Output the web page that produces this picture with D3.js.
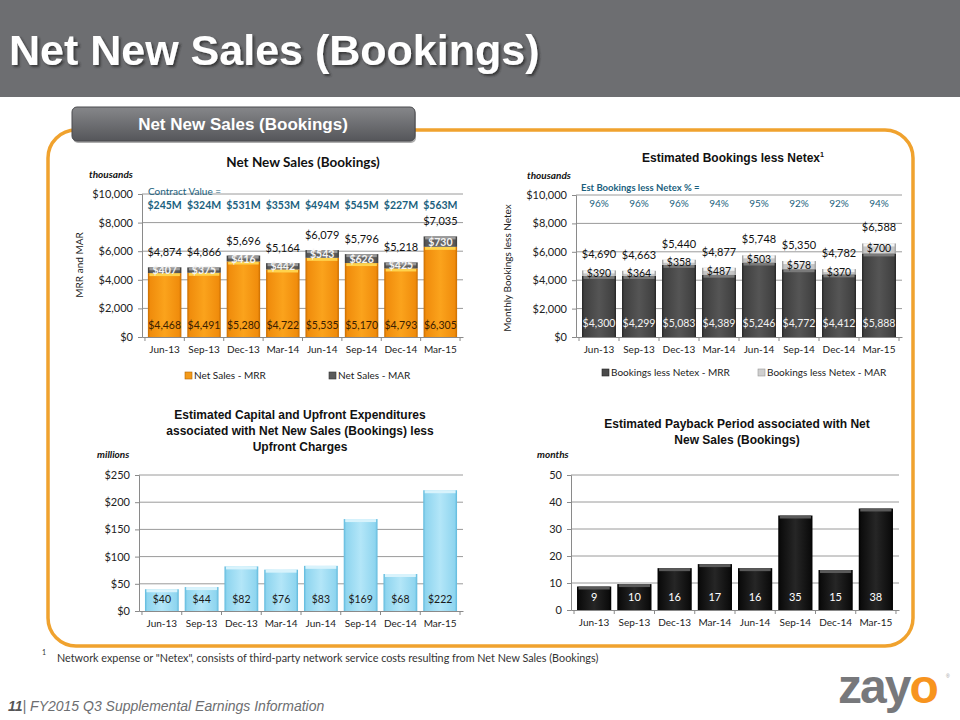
<!DOCTYPE html>
<html>
<head>
<meta charset="utf-8">
<script src="https://cdn.jsdelivr.net/npm/d3@7"></script>
<style>
  html, body { margin: 0; padding: 0; background: #fff; }
  svg { display: block; }
</style>
</head>
<body>
<svg id="chart" width="960" height="720"></svg>
<script>
// ---------------- DATA ----------------
const categories = ["Jun-13","Sep-13","Dec-13","Mar-14","Jun-14","Sep-14","Dec-14","Mar-15"];

const netSalesMRR   = [4468, 4491, 5280, 4722, 5535, 5170, 4793, 6305];
const netSalesMAR   = [407, 375, 416, 442, 543, 626, 425, 730];
const netSalesTotal = [4874, 4866, 5696, 5164, 6079, 5796, 5218, 7035];
const contractValue = [245, 324, 531, 353, 494, 545, 227, 563];

const bookingsMRR   = [4300, 4299, 5083, 4389, 5246, 4772, 4412, 5888];
const bookingsMAR   = [390, 364, 358, 487, 503, 578, 370, 700];
const bookingsTotal = [4690, 4663, 5440, 4877, 5748, 5350, 4782, 6588];
const bookingsPct   = [96, 96, 96, 94, 95, 92, 92, 94];

const capexValues   = [40, 44, 82, 76, 83, 169, 68, 222];
const paybackMonths = [8.7, 9.6, 15.5, 17.0, 15.5, 35.0, 14.8, 37.6];

const thousandTicks = [0, 2000, 4000, 6000, 8000, 10000];
const capexTicks    = [0, 50, 100, 150, 200, 250];
const paybackTicks  = [0, 10, 20, 30, 40, 50];

// ---------------- SETUP ----------------
const svg = d3.select("#chart");
const defs = svg.append("defs");
const CAL = "Lato, 'Open Sans', sans-serif";
const ARIAL = "'Liberation Sans', Arial, sans-serif";
const TEAL = "#1b5f7e";
const fmtD = d3.format("$,");

function hGrad(id, edge, mid, light) {
  const g = defs.append("linearGradient").attr("id", id)
    .attr("x1", "0%").attr("x2", "100%").attr("y1", "0%").attr("y2", "0%");
  [[0, edge], [0.07, mid], [0.5, light], [0.93, mid], [1, edge]].forEach(([o, c]) =>
    g.append("stop").attr("offset", o).attr("stop-color", c));
}
hGrad("gOrange", "#c96d00", "#f08c0c", "#fba31c");
hGrad("gDarkMar", "#3c3c3c", "#575757", "#6a6a6a");
hGrad("gDarkMrr", "#262626", "#404040", "#555555");
hGrad("gLightMar", "#9e9e9e", "#c4c4c4", "#dcdcdc");
hGrad("gBlue", "#5fb9dc", "#8fd5ef", "#b3e6f8");
hGrad("gBlack", "#000000", "#0c0c0c", "#262626");

const vg = defs.append("linearGradient").attr("id", "gHeader")
  .attr("x1", "0%").attr("x2", "0%").attr("y1", "0%").attr("y2", "100%");
vg.append("stop").attr("offset", 0).attr("stop-color", "#86878a");
vg.append("stop").attr("offset", 1).attr("stop-color", "#55565a");

const shadow = defs.append("filter").attr("id", "tshadow").attr("x", "-5%").attr("y", "-20%")
  .attr("width", "115%").attr("height", "150%");
shadow.append("feDropShadow").attr("dx", 2).attr("dy", 2).attr("stdDeviation", 1)
  .attr("flood-color", "#222").attr("flood-opacity", 0.7);

// ---------------- HEADER ----------------
svg.append("rect").attr("x", 0).attr("y", 0).attr("width", 960).attr("height", 97).attr("fill", "#6d6e71");
svg.append("text").attr("x", 9).attr("y", 65)
  .attr("font-family", ARIAL).attr("font-weight", "bold").attr("font-size", 43)
  .attr("fill", "#fff").attr("filter", "url(#tshadow)").text("Net New Sales (Bookings)");

// Panel
svg.append("rect").attr("x", 48).attr("y", 130).attr("width", 865).attr("height", 516)
  .attr("rx", 28).attr("ry", 28).attr("fill", "none")
  .attr("stroke", "#f0a22e").attr("stroke-width", 3.5);

// Tab
svg.append("rect").attr("x", 72).attr("y", 107).attr("width", 343).attr("height", 34)
  .attr("rx", 5).attr("fill", "#333").attr("opacity", 0.4).attr("transform", "translate(1,2)");
svg.append("rect").attr("x", 72).attr("y", 107).attr("width", 343).attr("height", 34)
  .attr("rx", 5).attr("fill", "url(#gHeader)").attr("stroke", "#4a4b4e").attr("stroke-width", 1);
svg.append("text").attr("x", 243).attr("y", 130).attr("text-anchor", "middle")
  .attr("font-family", "'Liberation Sans Narrow', " + ARIAL).attr("font-weight", "bold")
  .attr("font-size", 17).attr("fill", "#fff").text("Net New Sales (Bookings)");

// ---------------- CHART HELPER ----------------
function makeAxes(cfg) {
  const x = d3.scaleBand().domain(categories).range([cfg.x0, cfg.x1]).paddingInner(0.15).paddingOuter(0.15);
  const y = d3.scaleLinear().domain([0, cfg.max]).range([cfg.y0, cfg.y1]);
  const g = svg.append("g");
  g.selectAll("line.grid").data(cfg.ticks.filter(t => t > 0)).join("line")
    .attr("x1", cfg.x0).attr("x2", cfg.x1).attr("y1", d => y(d)).attr("y2", d => y(d))
    .attr("stroke", "#9a9a9a").attr("stroke-width", 1);
  const ya = g.append("g").attr("transform", `translate(${cfg.x0},0)`)
    .call(d3.axisLeft(y).tickValues(cfg.ticks).tickFormat(cfg.fmt).tickSize(4).tickPadding(5));
  ya.select(".domain").attr("stroke", "#8a8a8a");
  ya.selectAll(".tick line").attr("stroke", "#8a8a8a");
  ya.selectAll("text").attr("font-family", CAL).attr("font-size", 11).attr("fill", "#222");
  const xa = g.append("g").attr("transform", `translate(0,${cfg.y0})`)
    .call(d3.axisBottom(x).tickSize(0).tickPadding(9));
  xa.select(".domain").attr("stroke", "#8a8a8a");
  xa.selectAll("text").attr("font-family", CAL).attr("font-size", 10).attr("fill", "#222");
  const step = x.step();
  const bounds = d3.range(categories.length + 1).map(i => cfg.x0 + (cfg.x1 - cfg.x0 - step * categories.length) / 2 + i * step);
  g.selectAll("line.xt").data(bounds).join("line")
    .attr("x1", d => d).attr("x2", d => d).attr("y1", cfg.y0).attr("y2", cfg.y0 + 4)
    .attr("stroke", "#8a8a8a");
  return { x, y, g };
}

function bevelBar(g, x0, y0, w, h, fill, topColor) {
  if (h <= 0) return;
  g.append("rect").attr("x", x0).attr("y", y0).attr("width", w).attr("height", h)
    .attr("fill", fill);
  g.append("rect").attr("x", x0 + 1.5).attr("y", y0).attr("width", w - 3).attr("height", Math.min(3, h))
    .attr("fill", topColor);
}

function title(lines, cx, y, font, size) {
  lines.forEach((t, i) => {
    const tx = svg.append("text").attr("x", cx).attr("y", y + i * 16).attr("text-anchor", "middle")
      .attr("font-family", font).attr("font-weight", "bold").attr("font-size", size).attr("fill", "#111");
    if (t.endsWith("¹")) {
      tx.text(t.slice(0, -1));
      tx.append("tspan").attr("dy", -5).attr("font-size", size * 0.6).text("1");
    } else tx.text(t);
  });
}
function unitLabel(t, x, y) {
  svg.append("text").attr("x", x).attr("y", y).attr("font-family", CAL).attr("font-style", "italic")
    .attr("font-weight", "bold").attr("font-size", 10).attr("fill", "#111").text(t);
}
function yTitle(t, x, y) {
  svg.append("text").attr("transform", `translate(${x},${y}) rotate(-90)`).attr("text-anchor", "middle")
    .attr("font-family", CAL).attr("font-size", 10).attr("fill", "#222").text(t);
}
function legendItem(x, y, color, stroke, t) {
  svg.append("rect").attr("x", x).attr("y", y - 7).attr("width", 7).attr("height", 7)
    .attr("fill", color).attr("stroke", stroke).attr("stroke-width", 0.6);
  svg.append("text").attr("x", x + 9).attr("y", y).attr("font-family", CAL).attr("font-size", 10)
    .attr("fill", "#222").text(t);
}

// ---------------- CHART 1 ----------------
{
  title(["Net New Sales (Bookings)"], 303, 167, CAL, 13.5);
  unitLabel("thousands", 89, 178);
  yTitle("MRR and MAR", 83, 265);
  const { x, y, g } = makeAxes({ x0: 142, x1: 463, y0: 337, y1: 194, max: 10000, ticks: thousandTicks, fmt: fmtD });
  const w = x.bandwidth();
  categories.forEach((c, i) => {
    const bx = x(c);
    bevelBar(g, bx, y(netSalesMRR[i]), w, y(0) - y(netSalesMRR[i]), "url(#gOrange)", "#ffd34d");
    const topMar = y(netSalesMRR[i] + netSalesMAR[i]);
    bevelBar(g, bx, topMar, w, y(netSalesMRR[i]) - topMar, "url(#gDarkMar)", "#9a9a9a");
    g.append("text").attr("x", bx + w / 2).attr("y", (topMar + y(netSalesMRR[i])) / 2 + 4)
      .attr("text-anchor", "middle").attr("font-family", CAL).attr("font-size", 10.5)
      .attr("font-weight", "bold").attr("fill", "#f4f4f4").text(fmtD(netSalesMAR[i]));
    g.append("text").attr("x", bx + w / 2).attr("y", y(0) - 8)
      .attr("text-anchor", "middle").attr("font-family", CAL).attr("font-size", 10.5)
      .attr("fill", "#3a2000").text(fmtD(netSalesMRR[i]));
    g.append("text").attr("x", bx + w / 2).attr("y", y(netSalesTotal[i]) - 11)
      .attr("text-anchor", "middle").attr("font-family", CAL).attr("font-size", 11)
      .attr("fill", "#111").text(fmtD(netSalesTotal[i]));
    g.append("text").attr("x", bx + w / 2).attr("y", 209)
      .attr("text-anchor", "middle").attr("font-family", CAL).attr("font-size", 10.5)
      .attr("font-weight", "bold").attr("fill", TEAL).text("$" + contractValue[i] + "M");
  });
  svg.append("text").attr("x", 148).attr("y", 195).attr("font-family", CAL).attr("font-size", 10)
    .attr("fill", TEAL).text("Contract Value =");
  legendItem(185, 379, "#f39a1a", "#b56600", "Net Sales - MRR");
  legendItem(329, 379, "#5a5a5a", "#333", "Net Sales - MAR");
}

// ---------------- CHART 2 ----------------
{
  title(["Estimated Bookings less Netex¹"], 733, 162, ARIAL, 12);
  unitLabel("thousands", 527, 179);
  yTitle("Monthly Bookings less Netex", 511, 268);
  const { x, y, g } = makeAxes({ x0: 576, x1: 902, y0: 337, y1: 195, max: 10000, ticks: thousandTicks, fmt: fmtD });
  const w = x.bandwidth();
  categories.forEach((c, i) => {
    const bx = x(c);
    bevelBar(g, bx, y(bookingsMRR[i]), w, y(0) - y(bookingsMRR[i]), "url(#gDarkMrr)", "#7a7a7a");
    const topMar = y(bookingsMRR[i] + bookingsMAR[i]);
    bevelBar(g, bx, topMar, w, y(bookingsMRR[i]) - topMar, "url(#gLightMar)", "#f2f2f2");
    g.append("text").attr("x", bx + w / 2).attr("y", (topMar + y(bookingsMRR[i])) / 2 + 4)
      .attr("text-anchor", "middle").attr("font-family", CAL).attr("font-size", 10.5)
      .attr("fill", "#111").text(fmtD(bookingsMAR[i]));
    g.append("text").attr("x", bx + w / 2).attr("y", y(0) - 10)
      .attr("text-anchor", "middle").attr("font-family", CAL).attr("font-size", 10.5)
      .attr("fill", "#f2f2f2").text(fmtD(bookingsMRR[i]));
    g.append("text").attr("x", bx + w / 2).attr("y", y(bookingsTotal[i]) - 12)
      .attr("text-anchor", "middle").attr("font-family", CAL).attr("font-size", 11)
      .attr("fill", "#111").text(fmtD(bookingsTotal[i]));
    g.append("text").attr("x", bx + w / 2).attr("y", 207)
      .attr("text-anchor", "middle").attr("font-family", CAL).attr("font-size", 10)
      .attr("fill", TEAL).text(bookingsPct[i] + "%");
  });
  svg.append("text").attr("x", 581).attr("y", 191).attr("font-family", CAL).attr("font-size", 9.5)
    .attr("font-weight", "bold").attr("fill", TEAL).text("Est Bookings less Netex % =");
  legendItem(602, 376, "#4a4a4a", "#222", "Bookings less Netex - MRR");
  legendItem(758, 376, "#cfcfcf", "#999", "Bookings less Netex - MAR");
}

// ---------------- CHART 3 ----------------
{
  title(["Estimated Capital and Upfront Expenditures", "associated with Net New Sales (Bookings)  less", "Upfront Charges"], 300, 419, ARIAL, 12);
  unitLabel("millions", 97, 458);
  const { x, y, g } = makeAxes({ x0: 139, x1: 463, y0: 611, y1: 475, max: 250, ticks: capexTicks, fmt: d3.format("$,") });
  const w = x.bandwidth();
  categories.forEach((c, i) => {
    const bx = x(c);
    bevelBar(g, bx, y(capexValues[i]), w, y(0) - y(capexValues[i]), "url(#gBlue)", "#d8f3fc");
    g.append("text").attr("x", bx + w / 2).attr("y", 603)
      .attr("text-anchor", "middle").attr("font-family", CAL).attr("font-size", 10.5)
      .attr("fill", "#1a1a1a").text("$" + d3.format(".0f")(capexValues[i]));
  });
}

// ---------------- CHART 4 ----------------
{
  title(["Estimated  Payback Period associated  with Net", "New Sales (Bookings)"], 737, 428, ARIAL, 12);
  unitLabel("months", 537, 458);
  const { x, y, g } = makeAxes({ x0: 571, x1: 899, y0: 610, y1: 475, max: 50, ticks: paybackTicks, fmt: d3.format("d") });
  const w = x.bandwidth();
  categories.forEach((c, i) => {
    const bx = x(c);
    bevelBar(g, bx, y(paybackMonths[i]), w, y(0) - y(paybackMonths[i]), "url(#gBlack)", "#5a5a5a");
    g.append("text").attr("x", bx + w / 2).attr("y", 601)
      .attr("text-anchor", "middle").attr("font-family", CAL).attr("font-size", 11)
      .attr("fill", "#fff").text(d3.format(".0f")(paybackMonths[i]));
  });
}

// ---------------- FOOTER ----------------
svg.append("text").attr("x", 42).attr("y", 655).attr("font-family", CAL).attr("font-size", 7)
  .attr("fill", "#333").text("1");
svg.append("text").attr("x", 57).attr("y", 662).attr("font-family", CAL).attr("font-size", 10.8)
  .attr("fill", "#333")
  .text("Network expense or \"Netex\", consists of third-party network service costs resulting from Net New Sales (Bookings)");

const foot = svg.append("text").attr("x", 8).attr("y", 711).attr("font-family", ARIAL)
  .attr("font-style", "italic").attr("font-size", 14).attr("fill", "#6d6e71");
foot.append("tspan").attr("font-weight", "bold").attr("fill", "#555").text("11");
foot.append("tspan").text("| FY2015 Q3 Supplemental Earnings Information");

const logo = svg.append("text").attr("x", 838).attr("y", 703).attr("font-family", ARIAL)
  .attr("font-weight", "bold").attr("font-size", 48).attr("letter-spacing", -2);
logo.append("tspan").attr("fill", "#77787b").text("zay");
logo.append("tspan").attr("fill", "#f7941e").text("o");
svg.append("text").attr("x", 946).attr("y", 678).attr("font-family", ARIAL).attr("font-size", 5)
  .attr("fill", "#999").text("®");
</script>
</body>
</html>
